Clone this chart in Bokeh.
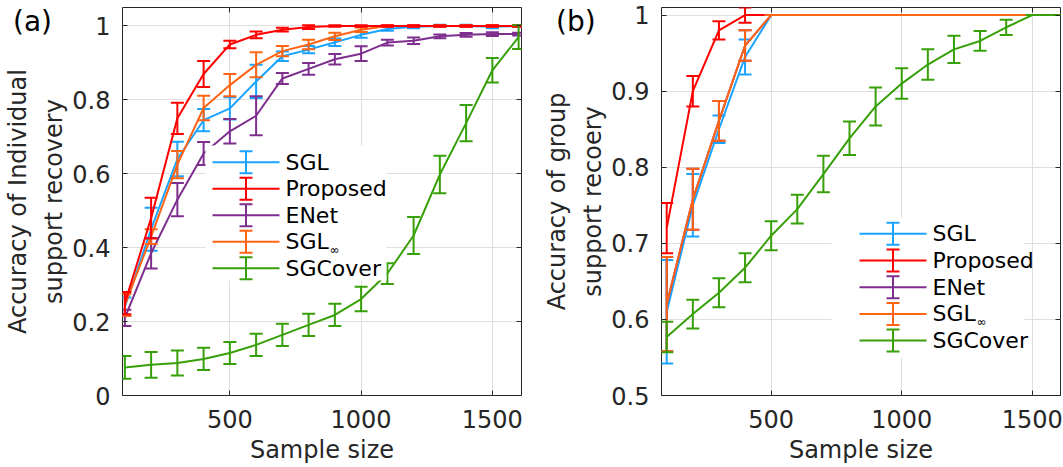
import numpy as np
from bokeh.plotting import figure
from bokeh.layouts import row
from bokeh.models import (Range1d, LinearAxis, FixedTicker, CustomJSTickFormatter,
                          BoxAnnotation, Label, ColumnDataSource, Div)
from bokeh.embed import file_html
from bokeh.resources import INLINE

# ---------------- data ----------------
sample_sizes = [100, 200, 300, 400, 500, 600, 700, 800, 900, 1000, 1100, 1200, 1300, 1400, 1500, 1600]

series_names = ["SGL", "Proposed", "ENet", "SGL\u221e", "SGCover"]
panel_tags = ["(a)", "(b)"]

# Panel (a): accuracy of individual support recovery
a_sgl      = [0.24, 0.45, 0.64, 0.745, 0.777, 0.85, 0.918, 0.936, 0.956, 0.976, 0.992, 0.998, 1.0, 1.0, 0.998, 1.0]
a_sgl_err  = [0.025, 0.058, 0.047, 0.03, 0.03, 0.045, 0.013, 0.01, 0.01, 0.008, 0.005, 0.004, 0.003, 0.003, 0.004, 0.002]
a_prop     = [0.25, 0.48, 0.75, 0.87, 0.95, 0.976, 0.99, 0.997, 1.0, 1.0, 1.0, 1.0, 1.0, 1.0, 1.0, 1.0]
a_prop_err = [0.03, 0.055, 0.042, 0.035, 0.01, 0.009, 0.005, 0.005, 0.002, 0.002, 0.002, 0.002, 0.002, 0.002, 0.002, 0.002]
a_enet     = [0.21, 0.385, 0.53, 0.655, 0.715, 0.757, 0.858, 0.884, 0.91, 0.925, 0.955, 0.96, 0.972, 0.976, 0.978, 0.978]
a_enet_err = [0.022, 0.041, 0.045, 0.031, 0.033, 0.053, 0.015, 0.016, 0.014, 0.02, 0.008, 0.009, 0.005, 0.005, 0.005, 0.004]
a_sgli     = [0.245, 0.43, 0.625, 0.778, 0.84, 0.895, 0.932, 0.95, 0.972, 0.99, 1.0, 1.0, 1.0, 1.0, 1.0, 1.0]
a_sgli_err = [0.03, 0.02, 0.037, 0.033, 0.03, 0.034, 0.014, 0.013, 0.01, 0.006, 0.002, 0.002, 0.002, 0.002, 0.002, 0.002]
a_cov      = [0.076, 0.083, 0.088, 0.099, 0.115, 0.137, 0.164, 0.191, 0.218, 0.261, 0.33, 0.433, 0.598, 0.737, 0.88, 0.97]
a_cov_err  = [0.031, 0.035, 0.034, 0.03, 0.03, 0.03, 0.03, 0.03, 0.03, 0.033, 0.028, 0.05, 0.051, 0.049, 0.033, 0.032]

# Panel (b): accuracy of group support recovery
b_sgl      = [0.61, 0.75, 0.85, 0.945, 1.0, 1.0, 1.0, 1.0, 1.0, 1.0, 1.0, 1.0, 1.0, 1.0, 1.0, 1.0]
b_sgl_err  = [0.068, 0.041, 0.018, 0.023, 0, 0, 0, 0, 0, 0, 0, 0, 0, 0, 0, 0]
b_prop     = [0.72, 0.90, 0.98, 1.0, 1.0, 1.0, 1.0, 1.0, 1.0, 1.0, 1.0, 1.0, 1.0, 1.0, 1.0, 1.0]
b_prop_err = [0.033, 0.02, 0.012, 0.01, 0, 0, 0, 0, 0, 0, 0, 0, 0, 0, 0, 0]
b_enet     = [0.62, 0.758, 0.861, 0.96, 1.0, 1.0, 1.0, 1.0, 1.0, 1.0, 1.0, 1.0, 1.0, 1.0, 1.0, 1.0]
b_enet_err = [0.062, 0.04, 0.026, 0.02, 0, 0, 0, 0, 0, 0, 0, 0, 0, 0, 0, 0]
b_sgli     = [0.62, 0.758, 0.861, 0.96, 1.0, 1.0, 1.0, 1.0, 1.0, 1.0, 1.0, 1.0, 1.0, 1.0, 1.0, 1.0]
b_sgli_err = [0.062, 0.04, 0.026, 0.02, 0, 0, 0, 0, 0, 0, 0, 0, 0, 0, 0, 0]
b_cov      = [0.577, 0.607, 0.635, 0.668, 0.71, 0.745, 0.791, 0.838, 0.88, 0.91, 0.935, 0.955, 0.966, 0.984, 1.0, 1.0]
b_cov_err  = [0.02, 0.019, 0.019, 0.019, 0.019, 0.019, 0.024, 0.022, 0.025, 0.02, 0.02, 0.018, 0.013, 0.01, 0, 0]

x_ticks = [500, 1000, 1500]
a_y_ticks = [0, 0.2, 0.4, 0.6, 0.8, 1]
b_y_ticks = [0.5, 0.6, 0.7, 0.8, 0.9, 1]

COLORS = {"SGL": "#1aa3ff", "Proposed": "#ff0000", "ENet": "#7e2f8e",
          "SGL\u221e": "#ff6414", "SGCover": "#379f08"}

FONT = "DejaVu Sans"
AX = "#262626"
FIG_H = 467
TOP = 7
BOTTOM = 72
FRAME_H = FIG_H - TOP - BOTTOM


def make_panel(data, draw_order, xr, yr, yticks, ylabel, leg, width, bl, br):
    p = figure(width=width, height=FIG_H, x_range=Range1d(*xr), y_range=Range1d(*yr),
               output_backend="svg", toolbar_location=None,
               min_border_left=bl, min_border_right=br, min_border_top=TOP, min_border_bottom=BOTTOM)
    p.background_fill_color = "white"
    p.border_fill_color = "white"
    p.outline_line_color = AX
    p.outline_line_width = 1

    xa = p.below[0]
    ya = p.left[0]
    xa.ticker = FixedTicker(ticks=x_ticks)
    ya.ticker = FixedTicker(ticks=yticks)
    ya.formatter = CustomJSTickFormatter(code="return String(Math.round(tick*10)/10)")
    for ax in (xa, ya):
        ax.major_tick_in = 5
        ax.major_tick_out = 0
        ax.minor_tick_line_color = None
        ax.axis_line_color = None
        ax.major_tick_line_color = AX
        ax.major_label_text_font = FONT
        ax.major_label_text_font_size = "24px"
        ax.major_label_text_color = AX
        ax.axis_label_text_font = FONT
        ax.axis_label_text_font_size = "24px"
        ax.axis_label_text_font_style = "normal"
        ax.axis_label_text_color = AX
    xa.axis_label = "Sample size"
    xa.major_label_standoff = 14
    xa.axis_label_standoff = 5
    ya.axis_label = ylabel
    ya.axis_label_text_line_height = 1.3
    ya.major_label_standoff = 12
    ya.axis_label_standoff = 1

    # extra tick-only axes (box with ticks on all sides)
    top_ax = LinearAxis(ticker=FixedTicker(ticks=x_ticks))
    right_ax = LinearAxis(ticker=FixedTicker(ticks=yticks))
    for ax in (top_ax, right_ax):
        ax.formatter = CustomJSTickFormatter(code="return ''")
        ax.major_label_standoff = 0
        ax.major_tick_in = 5
        ax.major_tick_out = 0
        ax.minor_tick_line_color = None
        ax.axis_line_color = None
        ax.major_tick_line_color = AX
    p.add_layout(top_ax, "above")
    p.add_layout(right_ax, "right")

    p.xgrid.ticker = FixedTicker(ticks=x_ticks)
    p.ygrid.ticker = FixedTicker(ticks=yticks)
    p.xgrid.grid_line_color = "#dfdfdf"
    p.ygrid.grid_line_color = "#dfdfdf"

    for name in draw_order:
        mean, err = data[name]
        lo = [m - e for m, e in zip(mean, err)]
        hi = [m + e for m, e in zip(mean, err)]
        src = ColumnDataSource(dict(x=sample_sizes, y=mean, lo=lo, hi=hi))
        c = COLORS[name]
        p.segment(x0="x", y0="lo", x1="x", y1="hi", source=src, line_color=c, line_width=2)
        p.scatter("x", "hi", source=src, marker="dash", size=13, line_color=c, line_width=2)
        p.scatter("x", "lo", source=src, marker="dash", size=13, line_color=c, line_width=2)
        p.line("x", "y", source=src, line_color=c, line_width=2)

    # legend (drawn as annotations, offsets relative to the frame)
    def fy(rel_top):
        return FRAME_H - rel_top
    p.add_layout(BoxAnnotation(left=leg["bg"][0], right=leg["bg"][1], top=fy(leg["bg"][2]), bottom=fy(leg["bg"][3]),
                               left_units="screen", right_units="screen", top_units="screen", bottom_units="screen",
                               fill_color="white", fill_alpha=1, line_color=None))
    for i, name in enumerate(series_names):
        c = COLORS[name]
        cy = fy(leg["y0"] + i * leg["dy"])
        lx0 = leg["lx"]
        cx = lx0 + 33.5
        boxes = [(lx0, lx0 + 67, cy - 1, cy + 1),
                 (cx - 1, cx + 1, cy - 11, cy + 11),
                 (cx - 6.5, cx + 6.5, cy + 10, cy + 12),
                 (cx - 6.5, cx + 6.5, cy - 12, cy - 10)]
        for (l, r, b, t) in boxes:
            p.add_layout(BoxAnnotation(left=l, right=r, bottom=b, top=t,
                                       left_units="screen", right_units="screen",
                                       top_units="screen", bottom_units="screen",
                                       fill_color=c, fill_alpha=1, line_color=None))
        if name == "SGL\u221e":
            p.add_layout(Label(x=lx0 + 73, y=cy, x_units="screen", y_units="screen", text="SGL",
                               text_font=FONT, text_font_size="22px", text_color="black",
                               text_baseline="middle"))
            p.add_layout(Label(x=lx0 + 73 + 44, y=cy - 8, x_units="screen", y_units="screen", text="\u221e",
                               text_font=FONT, text_font_size="12px", text_color="black",
                               text_baseline="middle"))
        else:
            p.add_layout(Label(x=lx0 + 73, y=cy, x_units="screen", y_units="screen", text=name,
                               text_font=FONT, text_font_size="22px", text_color="black",
                               text_baseline="middle"))
    return p


data_a = {"SGL": (a_sgl, a_sgl_err), "Proposed": (a_prop, a_prop_err), "ENet": (a_enet, a_enet_err),
          "SGL\u221e": (a_sgli, a_sgli_err), "SGCover": (a_cov, a_cov_err)}
data_b = {"SGL": (b_sgl, b_sgl_err), "Proposed": (b_prop, b_prop_err), "ENet": (b_enet, b_enet_err),
          "SGL\u221e": (b_sgli, b_sgli_err), "SGCover": (b_cov, b_cov_err)}

leg_a = dict(bg=(83, 264, 138, 273), y0=154.7, dy=26.5, lx=90)
leg_b = dict(bg=(170, 362, 210, 350), y0=226.3, dy=26.7, lx=198)

pa = make_panel(data_a, ["SGL", "ENet", "SGL\u221e", "Proposed", "SGCover"], (91, 1611), (0, 1.05),
                a_y_ticks, "Accuracy of Individual\nsupport recovery", leg_a, 539, 122, 18)
pb = make_panel(data_b, ["SGL", "Proposed", "ENet", "SGL\u221e", "SGCover"], (80, 1608), (0.5, 1.01),
                b_y_ticks, "Accuracy of group\nsupport recoery", leg_b, 524, 122, 3)

# panel tags (a) / (b), overlaid on the top-left corners of the panels
tag_style = "position:absolute;top:0px;font-family:'DejaVu Sans';font-size:28px;color:black;line-height:33px;white-space:nowrap;"
tag_html = (f'<div style="{tag_style}left:8px;">{panel_tags[0]}</div>'
            f'<div style="{tag_style}left:551px;">{panel_tags[1]}</div>')
tags = Div(text=tag_html, width=600, height=34,
           styles={"position": "absolute", "left": "0px", "top": "0px", "z-index": "10"})

layout = row(pa, pb, tags)
open("out.html", "w").write(file_html(layout, INLINE))
